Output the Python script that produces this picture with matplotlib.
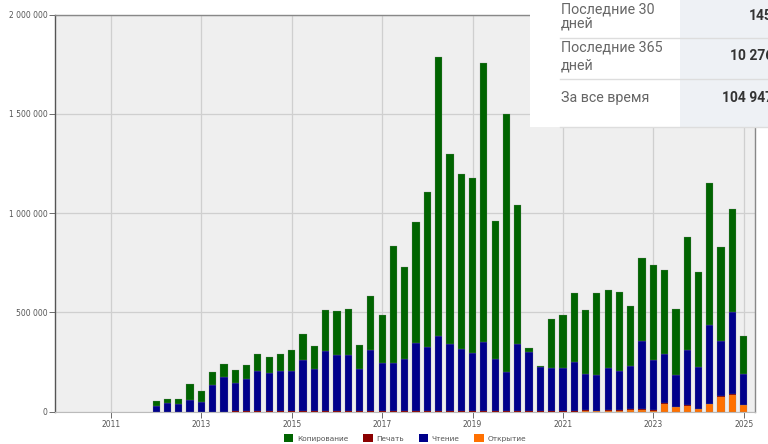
import numpy as np
import pandas as pd
import matplotlib
matplotlib.use("Agg")
import matplotlib.pyplot as plt
from matplotlib.patches import Rectangle
from matplotlib.lines import Line2D
from matplotlib.ticker import FuncFormatter

# ---------------- data (thousands of events per quarter) ----------------
quarters = pd.period_range("2012Q1", "2025Q1", freq="Q")

copying = [25, 22, 23, 79, 57, 64, 65, 63, 72, 86, 80, 89, 103, 131, 117, 207,
           226, 234, 121, 274, 243, 589, 461, 610, 782, 1405, 959, 884, 880, 1410,
           699, 1300, 701, 22, 8, 247, 265, 350, 322, 415, 391, 401, 302, 416,
           475, 420, 331, 568, 477, 718, 477, 517, 195]
printing = [0, 0, 0, 0, 0, 0, 0, 4, 4, 4, 4, 4, 4, 4, 4, 4,
            4, 4, 4, 4, 4, 4, 4, 4, 4, 4, 4, 4, 4, 4,
            4, 4, 4, 4, 3, 3, 3, 3, 3, 3, 3, 3, 3, 3,
            3, 2, 2, 2, 2, 2, 2, 2, 2]
reading = [28, 41, 38, 58, 46, 133, 174, 140, 159, 199, 190, 199, 202, 255, 210, 301,
           279, 281, 212, 306, 239, 241, 262, 340, 322, 377, 335, 311, 291, 344,
           259, 197, 338, 296, 219, 217, 217, 245, 182, 178, 214, 196, 215, 343,
           254, 249, 161, 280, 211, 397, 277, 416, 154]
opening = [0, 0, 0, 0, 0, 0, 0, 0, 0, 0, 0, 0, 0, 0, 0, 0,
           0, 0, 0, 0, 0, 0, 0, 0, 0, 0, 0, 0, 0, 0,
           0, 0, 0, 0, 0, 0, 0, 0, 3, 2, 3, 4, 10, 10,
           5, 40, 23, 30, 12, 37, 75, 84, 32]

series_labels = ["Копирование", "Печать", "Чтение", "Открытие"]
series_colors = ["#006400", "#8b0000", "#00008b", "#ff7000"]

y_ticks = [0, 500000, 1000000, 1500000, 2000000]
x_ticks = [2011, 2013, 2015, 2017, 2019, 2021, 2023, 2025]

table_labels = [["Последние 30", "дней"], ["Последние 365", "дней"], ["За все время"]]
table_values = ["145", "10 276", "104 947"]

# ---------------- figure ----------------
W, H = 768, 444
fig = plt.figure(figsize=(W / 100, H / 100), dpi=100)
ax = fig.add_axes([54.5 / W, 1 - 411.5 / H, (755 - 54.5) / W, (411.5 - 14.7) / H])
ax.set_facecolor("#efefef")

x = np.array([q.year + (q.quarter - 1) / 4 for q in quarters])
scale = 1000
o = np.array(opening) * scale
p = np.array(printing) * scale
r = np.array(reading) * scale
c = np.array(copying) * scale

bw = 0.16
ec = (0.55, 0.55, 0.55, 0.6)
ax.bar(x, o, bw, color=series_colors[3], edgecolor=ec, linewidth=0.3, zorder=3)
ax.bar(x, p, bw, bottom=o, color=series_colors[1], linewidth=0, zorder=3)
ax.bar(x, r, bw, bottom=o + p, color=series_colors[2], edgecolor=ec, linewidth=0.3, zorder=3)
ax.bar(x, c, bw, bottom=o + p + r, color=series_colors[0], edgecolor=ec, linewidth=0.3, zorder=3)

ax.set_xlim(2009.75, 2025.25)
ax.set_ylim(0, 2000000)
ax.set_xticks(x_ticks)
ax.set_xticklabels([str(t) for t in x_ticks])
ax.set_yticks(y_ticks)
ax.yaxis.set_major_formatter(FuncFormatter(lambda v, _: f"{int(v):,}".replace(",", " ")))
ax.grid(True, color="#cfcfcf", linewidth=0.9, zorder=0)
ax.set_axisbelow(True)
ax.tick_params(axis="both", labelsize=5.5, colors="#555555", length=4, width=0.6,
               labelcolor="#555555", pad=2)
ax.tick_params(axis="y", pad=1)
ax.spines["left"].set_color("#555555")
ax.spines["left"].set_linewidth(1.0)
for s in ["top", "right"]:
    ax.spines[s].set_color("#888888")
    ax.spines[s].set_linewidth(1.0)
ax.spines["bottom"].set_color("#bbbbbb")
ax.spines["bottom"].set_linewidth(0.8)

# legend
handles = [Rectangle((0, 0), 1, 1, facecolor=col, edgecolor="none") for col in series_colors]
fig.legend(handles, series_labels, loc="center", bbox_to_anchor=(405 / W, 1 - 438 / H),
           ncol=4, frameon=False, fontsize=5.3, handlelength=1.3, handleheight=1.1,
           columnspacing=2.0, handletextpad=0.5, labelcolor="#555555")

# ---------------- overlay table ----------------
def fx(px):
    return px / W

def fy(py):
    return 1 - py / H

fig.add_artist(Rectangle((fx(530), fy(127)), fx(768 - 530), 127 / H,
                         transform=fig.transFigure, facecolor="white", edgecolor="none", zorder=10))
fig.add_artist(Rectangle((fx(680), fy(127)), fx(768 - 680), 127 / H,
                         transform=fig.transFigure, facecolor="#eef1f5", edgecolor="none", zorder=11))
for ly in [38, 79, 127]:
    fig.add_artist(Line2D([fx(560), fx(768)], [fy(ly), fy(ly)], transform=fig.transFigure,
                          color="#dddddd", linewidth=1.0, zorder=12))

label_lines_y = [[9, 24], [48, 65], [98]]
value_y = [16, 56, 98]
tfam = ["Roboto", "DejaVu Sans"]
for lines, ys in zip(table_labels, label_lines_y):
    for txt, yy in zip(lines, ys):
        fig.text(fx(561), fy(yy), txt, ha="left", va="center", fontsize=10.3,
                 color="#666666", family=tfam, zorder=13)
for val, yy in zip(table_values, value_y):
    fig.text(fx(773), fy(yy), val, ha="right", va="center", fontsize=10,
             color="#333333", weight="bold", family=tfam, zorder=13)

fig.savefig("out.png", dpi=100)
